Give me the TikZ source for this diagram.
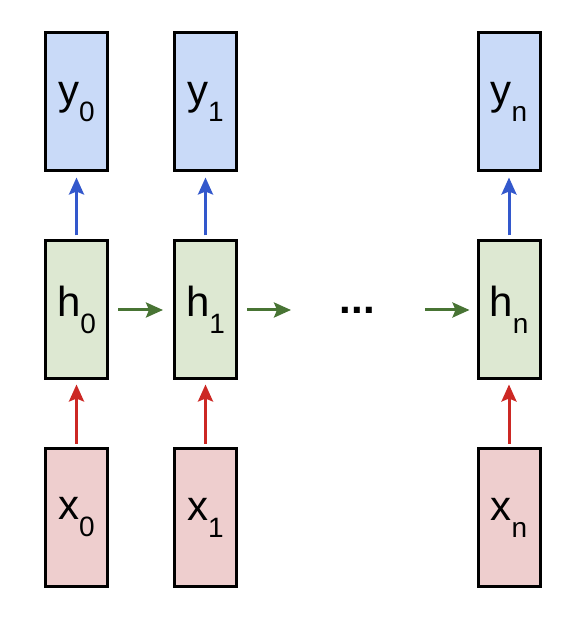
\documentclass[tikz,border=0pt]{standalone}
\usepackage{fontspec}
\setmainfont{Liberation Sans}
\usetikzlibrary{arrows.meta}
\definecolor{ybox}{RGB}{201,218,248}
\definecolor{hbox}{RGB}{221,232,210}
\definecolor{xbox}{RGB}{238,206,206}
\definecolor{yarrow}{RGB}{51,88,204}
\definecolor{harrow}{RGB}{72,116,52}
\definecolor{xarrow}{RGB}{204,40,36}
\newcommand{\cell}[2]{{\fontsize{42}{42}\selectfont #1}\raisebox{-17pt}{\fontsize{28}{28}\selectfont #2}}

\begin{document}
\begin{tikzpicture}[x=1pt,y=1pt,
  cellbox/.style={draw=black,line width=3pt,minimum width=62pt,minimum height=138pt,inner sep=0pt},
  link/.style={line width=3pt,-{Stealth[length=17pt,width=15pt,inset=3pt]}}]
\useasboundingbox (0,0) rectangle (586,630);

\foreach \i/\x in {0/76.5,1/205.5,n/509}{
  \node[cellbox,fill=ybox] (y\i) at (\x,528) {\cell{y}{\i}};
  \node[cellbox,fill=hbox] (h\i) at (\x,320) {\cell{h}{\i}};
  \node[cellbox,fill=xbox] (x\i) at (\x,112.5) {\cell{x}{\i}};
  \draw[link,yarrow,shorten <=4pt,shorten >=5pt] (h\i) -- (y\i);
  \draw[link,xarrow,shorten <=3pt,shorten >=4pt] (x\i) -- (h\i);
}
\node[font=\fontsize{42}{42}\selectfont\bfseries,anchor=base] (dots) at (357.5,316) {...};
\coordinate (gapin) at (291,320);
\coordinate (gapout) at (425,320);

\draw[link,harrow,shorten <=9pt,shorten >=10pt] (h0) -- (h1);
\draw[link,harrow,shorten <=9pt] (h1.east) -- (gapin);
\draw[link,harrow,shorten >=7pt] (gapout) -- (hn.west);
\end{tikzpicture}
\end{document}
